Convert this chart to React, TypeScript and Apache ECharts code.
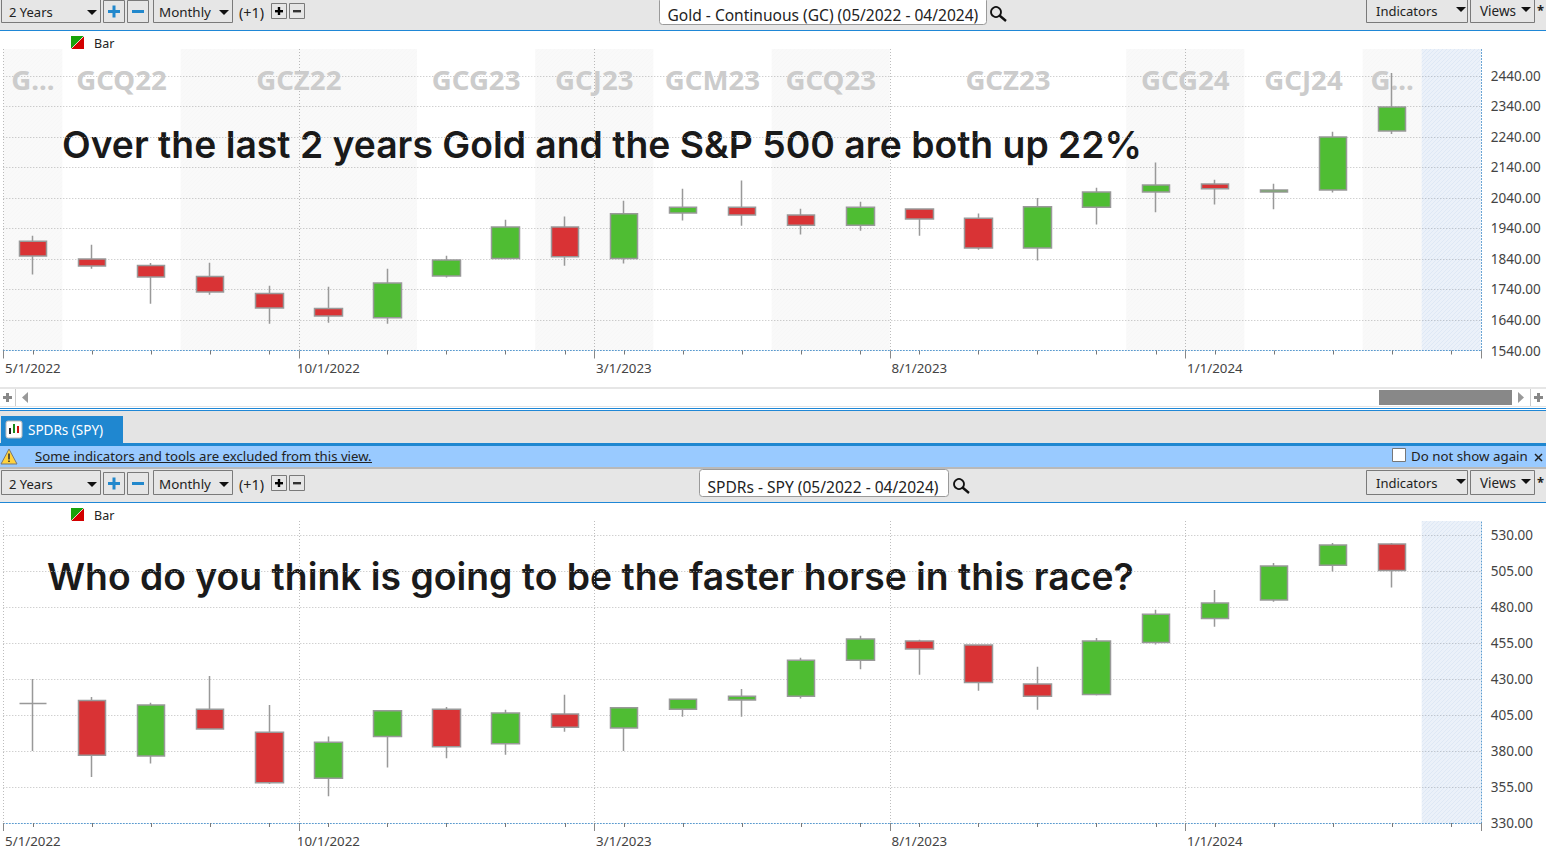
import React, { useEffect, useRef } from "react";
import * as echarts from "echarts";

const categories = [
  "5/1/2022", "6/1/2022", "7/1/2022", "8/1/2022", "9/1/2022", "10/1/2022", "11/1/2022", "12/1/2022",
  "1/1/2023", "2/1/2023", "3/1/2023", "4/1/2023", "5/1/2023", "6/1/2023", "7/1/2023", "8/1/2023",
  "9/1/2023", "10/1/2023", "11/1/2023", "12/1/2023", "1/1/2024", "2/1/2024", "3/1/2024", "4/1/2024", "5/1/2024",
];

// [open, close, low, high]
const goldCandles = [
  [1898, 1850, 1789, 1916], [1840, 1817, 1808, 1887], [1819, 1781, 1693, 1827], [1783, 1732, 1723, 1828],
  [1727, 1679, 1628, 1752], [1678, 1653, 1631, 1749], [1647, 1761, 1628, 1808], [1784, 1837, 1779, 1851],
  [1842, 1945, 1839, 1969], [1945, 1847, 1818, 1979], [1842, 1988, 1825, 2031], [1991, 2010, 1966, 2070],
  [2010, 1984, 1949, 2097], [1984, 1951, 1920, 2005], [1951, 2010, 1933, 2028], [2004, 1971, 1916, 2006],
  [1974, 1876, 1870, 1989], [1876, 2011, 1835, 2040], [2010, 2060, 1953, 2074], [2060, 2083, 1993, 2156],
  [2086, 2070, 2019, 2100], [2060, 2066, 2003, 2087], [2066, 2240, 2058, 2257], [2260, 2338, 2250, 2450],
];

const spyCandles = [
  [413, 413, 380, 430], [415, 377, 362, 417.5], [376.5, 412, 371.4, 413.5], [409, 395.3, 395, 432],
  [393, 358, 357, 412], [361, 386, 348.5, 390], [390, 408, 368.6, 408.5], [409, 383, 375, 410.5],
  [385, 406.4, 377.4, 408.7], [405.7, 396.4, 393.4, 419], [396, 410, 380, 410.3], [409, 416, 403.8, 416.3],
  [415.4, 418, 403.8, 423], [418, 443, 416.5, 444.8], [443, 457.8, 436.7, 460], [456.4, 450.8, 433, 457.3],
  [453.6, 427.6, 421.9, 454], [426.5, 418, 408.7, 438.5], [419.3, 456.4, 418.6, 458.5], [455.4, 475, 454, 478],
  [472, 482.8, 466.3, 491.8], [484.9, 508.5, 483.7, 510.6], [508.9, 523, 504.7, 524.4], [523.8, 505.4, 493.6, 524.4],
];

const goldTicks = [1540, 1640, 1740, 1840, 1940, 2040, 2140, 2240, 2340, 2440];
const spyTicks = [330, 355, 380, 405, 430, 455, 480, 505, 530];

const contractLabels = ["G...", "GCQ22", "GCZ22", "GCG23", "GCJ23", "GCM23", "GCQ23", "GCZ23", "GCG24", "GCJ24", "G..."];
const contractStarts = [0, 1, 3, 7, 9, 11, 13, 15, 19, 21, 23];
const contractEnds = [0, 2, 6, 8, 10, 12, 14, 18, 20, 22, 23];
const contractShaded = [1, 0, 1, 0, 1, 0, 1, 0, 1, 0, 1];

const FONT = '"Noto Sans", "Open Sans", sans-serif';
const BLUE = "#1f87d6";
const TXT = "#222";

function hatch(base: string, line: string) {
  const c = document.createElement("canvas");
  c.width = 4;
  c.height = 4;
  const g = c.getContext("2d")!;
  g.fillStyle = base;
  g.fillRect(0, 0, 4, 4);
  g.fillStyle = line;
  for (let i = 0; i < 4; i++) g.fillRect(i, 3 - i, 1, 1);
  return { image: c, repeat: "repeat" };
}

function txt(text: string, x: number, y: number, opt: any = {}) {
  return {
    type: "text",
    x,
    y,
    silent: true,
    style: {
      text,
      font: `${opt.weight || 400} ${opt.size || 14}px ${opt.family || FONT}`,
      fill: opt.fill || TXT,
      align: opt.align || "left",
      verticalAlign: "middle",
    },
  };
}
const rect = (x: number, y: number, w: number, h: number, fill: string, stroke?: string, r = 0) => ({
  type: "rect",
  silent: true,
  shape: { x, y, width: w, height: h, r },
  style: { fill, stroke: stroke || undefined, lineWidth: stroke ? 1 : 0 },
});
const tri = (pts: number[][], fill: string) => ({ type: "polygon", silent: true, shape: { points: pts }, style: { fill } });
const ln = (x1: number, y1: number, x2: number, y2: number, stroke: string, w = 1) => ({
  type: "line",
  silent: true,
  shape: { x1, y1, x2, y2 },
  style: { stroke, lineWidth: w },
});
const down = (x: number, y: number) => tri([[x, y], [x + 10, y], [x + 5, y + 5]], "#111");

function toolbar(dy: number, top: number, title: string, boxX: number, boxW: number, iconX: number) {
  const L = "#7a7a7a";
  const el: any[] = [
    rect(0, top, 1546, 30 + dy - top, "#e6e6e6"),
    rect(0, 30 + dy, 1546, 1, BLUE),
    rect(1.5, dy - 1.5, 99, 24, "#e6e6e6", L),
    txt("2 Years", 9, dy + 12, { size: 13 }),
    down(87, dy + 10),
    rect(103.5, dy + 0.5, 21, 22, "#e6e6e6", L),
    rect(108, dy + 10, 12, 3, "#2288cc"),
    rect(112.5, dy + 5.5, 3, 12, "#2288cc"),
    rect(127.5, dy + 0.5, 21, 22, "#e6e6e6", L),
    rect(132, dy + 10, 12, 3, "#2288cc"),
    rect(153.5, dy - 1.5, 79, 24, "#e6e6e6", L),
    txt("Monthly", 159, dy + 12, { size: 13.4 }),
    down(219, dy + 10),
    txt("(+1)", 239, dy + 12, { size: 14.4 }),
    rect(271.5, dy + 3.5, 15, 15, "#e6e6e6", L),
    rect(275, dy + 10, 8, 2.4, "#000"),
    rect(277.8, dy + 7, 2.4, 8, "#000"),
    rect(289.5, dy + 3.5, 15, 15, "#e6e6e6", L),
    rect(293, dy + 10, 8, 2.4, "#333"),
    rect(boxX + 0.5, dy - 2.5, boxW, 27, "#fff", "#9a9a9a", 3),
    txt(title, boxX + 8.5, dy + 14.5, { size: 15.55 }),
    { type: "circle", silent: true, shape: { cx: iconX + 6, cy: dy + 12, r: 5 }, style: { fill: "none", stroke: "#111", lineWidth: 1.8 } },
    ln(iconX + 9.5, dy + 15.5, iconX + 16, dy + 21, "#111", 2.4),
    rect(1366.5, dy - 1.5, 101, 24, "#e6e6e6", L),
    txt("Indicators", 1376, dy + 11, { size: 13 }),
    down(1456, dy + 7),
    rect(1470.5, dy - 1.5, 64, 24, "#e6e6e6", L),
    txt("Views", 1480, dy + 11, { size: 13.5 }),
    down(1521, dy + 7),
    txt("*", 1537, dy + 10, { size: 13, weight: 700 }),
    tri([[71, dy + 36], [84, dy + 36], [71, dy + 49]], "#17a30a"),
    tri([[84, dy + 36], [84, dy + 49], [71, dy + 49]], "#d30000"),
    ln(71, dy + 49, 84, dy + 36, "#fff", 0.7),
    txt("Bar", 94, dy + 43.5, { size: 12.5 }),
  ];
  return el;
}

function chrome(): any[] {
  return [
    ...toolbar(0, 0, "Gold - Continuous (GC) (05/2022 - 04/2024)", 659, 327, 990),
    // horizontal scroller
    rect(0, 387, 1546, 2, "#e6e6e6"),
    rect(0, 406, 1546, 1, "#e6e6e6"),
    rect(3, 396, 9, 3, "#888"),
    rect(6, 393, 3, 9, "#888"),
    rect(15, 389, 1, 17, "#ccc"),
    tri([[28, 392], [28, 403], [22, 397.5]], "#999"),
    rect(1379, 390, 133, 15, "#888"),
    tri([[1518, 392], [1518, 403], [1524, 397.5]], "#999"),
    rect(1530, 389, 1, 17, "#ccc"),
    rect(1534, 396, 9, 3, "#888"),
    rect(1537, 393, 3, 9, "#888"),
    // tab strip
    rect(0, 408, 1546, 1, BLUE),
    rect(0, 410, 1546, 34, "#e4e4e4"),
    rect(0, 410, 1546, 1, BLUE),
    rect(1, 416, 122, 27, "#1f87d0"),
    rect(0, 443, 1546, 3, "#1f87d0"),
    rect(6, 421, 16, 17, "#fff", "#bbb", 2),
    rect(9, 428, 2, 6, "#222"),
    rect(13, 424, 2, 9, "#1a8a1a"),
    rect(17, 426, 2, 7, "#c11"),
    txt("SPDRs (SPY)", 28, 430, { size: 13.5, fill: "#fff" }),
    // notice
    rect(0, 446, 1546, 21, "#99caff"),
    rect(0, 467, 1546, 2, "#b9b9b9"),
    tri([[9, 449], [17, 464], [1, 464]], "#ffd23c"),
    ln(9, 449, 17, 464, "#777", 1),
    ln(17, 464, 1, 464, "#777", 1),
    ln(1, 464, 9, 449, "#777", 1),
    ln(9, 453.5, 9, 459.5, "#333", 1.6),
    rect(8.2, 460.5, 1.6, 1.6, "#333"),
    txt("Some indicators and tools are excluded from this view.", 35, 456, { size: 13.2 }),
    ln(35, 462.5, 372, 462.5, "#222", 1),
    rect(1392.5, 448.5, 13, 13, "#fff", "#777"),
    txt("Do not show again", 1411, 456, { size: 13.3 }),
    ln(1535, 454, 1542, 461, "#222", 1.5),
    ln(1542, 454, 1535, 461, "#222", 1.5),
    ...toolbar(472, 469, "SPDRs - SPY (05/2022 - 04/2024)", 699, 249, 953),
    // annotations
    txt("Over the last 2 years Gold and the S&P 500 are both up 22%", 62, 144, {
      size: 37.3, weight: 600, fill: "#1a1a1a", family: "Inter, sans-serif",
    }),
    txt("Who do you think is going to be the faster horse in this race?", 47, 576, {
      size: 37.3, weight: 600, fill: "#1a1a1a", family: "Inter, sans-serif",
    }),
  ];
}

const gridLine = { show: true, lineStyle: { color: "#bdbdbd", type: [1, 2] as any, width: 1 } };
const blueDots = { show: true, lineStyle: { color: "#5a9bd0", type: [1, 2] as any, width: 1 } };

function xAxes(gridIndex: number) {
  return [
    {
      type: "category",
      gridIndex,
      data: categories,
      boundaryGap: true,
      axisLine: { ...blueDots, onZero: false },
      axisTick: { show: true, alignWithLabel: true, interval: 0, length: 4, lineStyle: { color: "#777" } },
      axisLabel: { interval: 4, margin: 11, color: "#444", fontFamily: FONT, fontSize: 13.3 },
      splitLine: { ...gridLine, interval: 4, showMaxLine: false },
    },
    {
      type: "category",
      gridIndex,
      position: "bottom",
      data: categories,
      boundaryGap: true,
      axisLine: { show: false, onZero: false },
      axisTick: { show: true, interval: 4, length: 8, lineStyle: { color: "#888" } },
      axisLabel: { show: false },
      splitLine: { show: false },
    },
  ];
}

function yAxis(gridIndex: number, min: number, max: number, ticks: number[]) {
  return {
    type: "value",
    gridIndex,
    position: "right",
    min,
    max,
    axisLine: blueDots,
    axisTick: { show: false, customValues: ticks },
    axisLabel: {
      customValues: ticks,
      margin: 10,
      padding: [2, 0, 0, 0],
      color: "#444",
      fontFamily: FONT,
      fontSize: 13.5,
      formatter: (v: number) => v.toFixed(2),
    },
    splitLine: gridLine,
  };
}

function candle(name: string, data: number[][], xAxisIndex: number, yAxisIndex: number) {
  return {
    name,
    type: "candlestick",
    xAxisIndex,
    yAxisIndex,
    z: 3,
    barWidth: 28,
    data,
    itemStyle: {
      color: "#4fbd33",
      color0: "#d93335",
      borderColor: "#999",
      borderColor0: "#999",
      borderColorDoji: "#999",
      borderWidth: 1.5,
    },
    silent: true,
  };
}

function bandSeries(xAxisIndex: number, yAxisIndex: number, shaded: any, blue: any, withContracts: boolean) {
  const starts = withContracts ? contractStarts : [];
  const ends = withContracts ? contractEnds : [];
  const flags = withContracts ? contractShaded : [];
  const labels = withContracts ? contractLabels : [];
  const allStarts = [...starts, categories.length - 1];
  const allEnds = [...ends, categories.length - 1];
  return {
    type: "custom",
    xAxisIndex,
    yAxisIndex,
    z: 1,
    silent: true,
    clip: false,
    data: allStarts.map((s, i) => [s, allEnds[i]]),
    renderItem: (params: any, api: any) => {
      const i = params.dataIndex;
      const cs = params.coordSys;
      const w = api.size([1, 0])[0];
      const x0 = api.coord([allStarts[i], 0])[0] - w / 2;
      const x1 = api.coord([allEnds[i], 0])[0] + w / 2;
      const children: any[] = [];
      const isBlue = i === allStarts.length - 1;
      if (isBlue || flags[i]) {
        children.push({
          type: "rect",
          shape: { x: x0, y: cs.y, width: x1 - x0, height: cs.height },
          style: { fill: isBlue ? blue : shaded },
        });
      }
      if (!isBlue) {
        children.push({
          type: "text",
          style: {
            text: labels[i],
            x: (x0 + x1) / 2,
            y: cs.y + 29.5,
            align: "center",
            verticalAlign: "middle",
            font: `700 27.6px ${FONT}`,
            fill: "#cccccc",
          },
        });
      }
      return { type: "group", children };
    },
  };
}

export default function App() {
  const ref = useRef<HTMLDivElement>(null);
  useEffect(() => {
    document.body.style.margin = "0";
    const chart = echarts.init(ref.current!, undefined, { renderer: "svg" });
    const shaded = hatch("rgba(0,0,0,0.022)", "rgba(0,0,0,0.012)");
    const blue = hatch("rgba(60,120,200,0.10)", "rgba(60,120,200,0.07)");
    chart.setOption({
      animation: false,
      backgroundColor: "#fff",
      grid: [
        { left: 3.3, top: 49, width: 1477.5, height: 301.5 },
        { left: 3.3, top: 521, width: 1477.5, height: 302 },
      ],
      xAxis: [...xAxes(0), ...xAxes(1)],
      yAxis: [yAxis(0, 1540, 2528.5, goldTicks), yAxis(1, 330, 539.7, spyTicks)],
      series: [
        bandSeries(0, 0, shaded, blue, true),
        bandSeries(2, 1, shaded, blue, false),
        candle("Gold", goldCandles, 0, 0),
        candle("SPY", spyCandles, 2, 1),
      ],
      graphic: { elements: chrome() },
    } as any);
    return () => chart.dispose();
  }, []);
  return <div ref={ref} style={{ width: 1546, height: 855, overflow: "hidden" }} />;
}
